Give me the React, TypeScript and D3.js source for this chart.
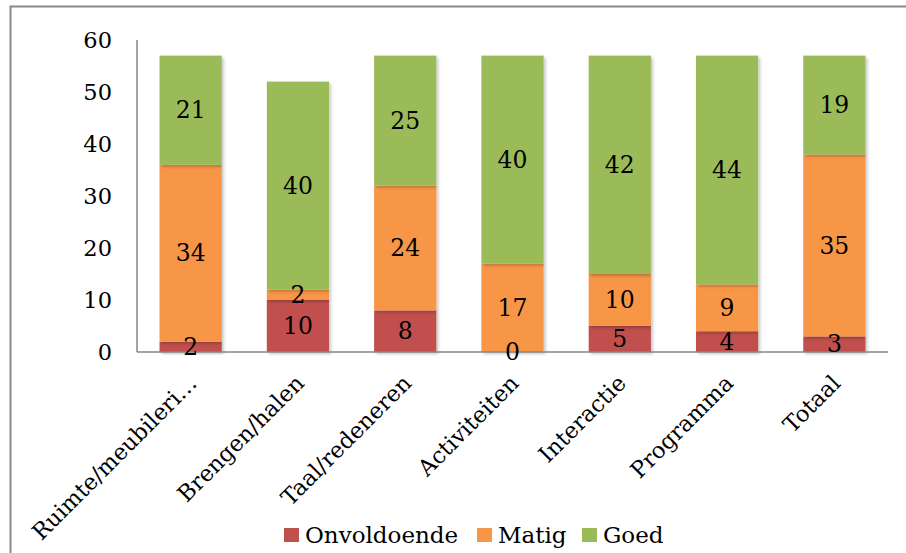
import React, { useEffect, useRef } from 'react';
import * as d3 from 'd3';

const categories = ["Ruimte/meubileri…", "Brengen/halen", "Taal/redeneren", "Activiteiten", "Interactie", "Programma", "Totaal"];
const onvoldoende = [2, 10, 8, 0, 5, 4, 3];
const matig = [34, 2, 24, 17, 10, 9, 35];
const goed = [21, 40, 25, 40, 42, 44, 19];
const seriesNames = ["Onvoldoende", "Matig", "Goed"];
const seriesColors = ["#C0504D", "#F79646", "#9BBB59"];
const yTicks = [0, 10, 20, 30, 40, 50, 60];

const FONT = "'DejaVu Serif', serif";

const App = () => {
    const ref = useRef<SVGSVGElement>(null);

    useEffect(() => {
        const svg = d3.select(ref.current);
        svg.selectAll("*").remove();

        const left = 137, right = 888, top = 40, bottom = 352;

        // outer frame
        svg.append("rect")
            .attr("x", 10.5).attr("y", 6.5)
            .attr("width", 1000).attr("height", 1000)
            .attr("fill", "white")
            .attr("stroke", "#8a8a8a")
            .attr("stroke-width", 2);

        const defs = svg.append("defs");
        defs.append("filter").attr("id", "shadow")
            .attr("x", "-20%").attr("y", "-20%").attr("width", "140%").attr("height", "140%")
            .append("feDropShadow")
            .attr("dx", 2).attr("dy", 2).attr("stdDeviation", 1.5)
            .attr("flood-color", "#000").attr("flood-opacity", 0.22);

        const x = d3.scaleBand().domain(categories).range([left, right]).paddingInner(0.42).paddingOuter(0.21);
        const y = d3.scaleLinear().domain([0, 60]).range([bottom, top]);

        const rows = categories.map((c, i) => ({
            cat: c, Onvoldoende: onvoldoende[i], Matig: matig[i], Goed: goed[i],
        }));
        const stacked = d3.stack<any>().keys(seriesNames)(rows);

        // y tick labels
        svg.append("g").selectAll("text")
            .data(yTicks).enter().append("text")
            .attr("x", 112).attr("y", (d) => y(d))
            .attr("dy", "0.35em")
            .attr("text-anchor", "end")
            .attr("font-family", FONT).attr("font-size", 22.5)
            .attr("fill", "#000")
            .text((d) => d);

        // bars
        const groups = svg.append("g").selectAll("g")
            .data(stacked).enter().append("g")
            .attr("fill", (d, i) => seriesColors[i]);
        groups.selectAll("rect")
            .data((d) => d.map((p) => ({ p, key: d.key })))
            .enter().append("rect")
            .attr("x", (d) => x(d.p.data.cat)!)
            .attr("y", (d) => y(d.p[1]))
            .attr("width", x.bandwidth())
            .attr("height", (d) => y(d.p[0]) - y(d.p[1]))
            .attr("filter", "url(#shadow)");

        // axis lines
        svg.append("line")
            .attr("x1", left).attr("x2", left).attr("y1", top).attr("y2", bottom)
            .attr("stroke", "#868686").attr("stroke-width", 1.5);
        svg.append("line")
            .attr("x1", left).attr("x2", right).attr("y1", bottom).attr("y2", bottom)
            .attr("stroke", "#868686").attr("stroke-width", 1.5);

        // data labels
        stacked.forEach((s) => {
            svg.append("g").selectAll("text")
                .data(s).enter().append("text")
                .attr("x", (d) => x(d.data.cat)! + x.bandwidth() / 2)
                .attr("y", (d) => (y(d[0]) + y(d[1])) / 2)
                .attr("dy", "0.35em")
                .attr("text-anchor", "middle")
                .attr("font-family", FONT).attr("font-size", 23.5)
                .attr("fill", "#000")
                .text((d) => d[1] - d[0]);
        });

        // category labels
        svg.append("g").selectAll("text")
            .data(categories).enter().append("text")
            .attr("transform", (d) => `translate(${x(d)! + x.bandwidth() / 2 + 2},${bottom + 27}) rotate(-45)`)
            .attr("text-anchor", "end")
            .attr("dy", "0.35em")
            .attr("font-family", FONT).attr("font-size", 22.5)
            .attr("fill", "#000")
            .text((d) => d);

        // legend
        const legendX = [284, 477, 582];
        const legend = svg.append("g").selectAll("g")
            .data(seriesNames).enter().append("g")
            .attr("transform", (d, i) => `translate(${legendX[i]},528)`);
        legend.append("rect")
            .attr("width", 15).attr("height", 14)
            .attr("fill", (d, i) => seriesColors[i]);
        legend.append("text")
            .attr("x", 21).attr("y", 15)
            .attr("font-family", FONT).attr("font-size", 23)
            .attr("fill", "#000")
            .text((d) => d);
    }, []);

    return (
        <svg ref={ref} width="906" height="553" style={{ position: 'absolute', left: 0, top: 0 }}>
        </svg>
    );
};

export default App;
